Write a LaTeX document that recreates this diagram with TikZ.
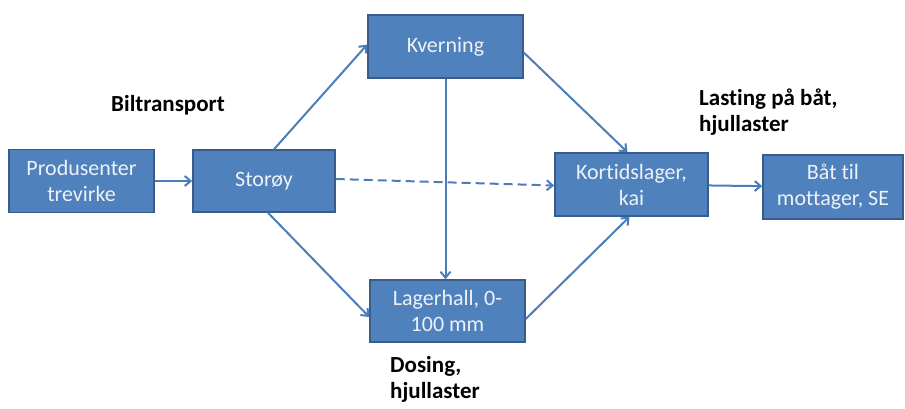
\documentclass[tikz,border=0pt]{standalone}
\usepackage{fontspec}
\setmainfont{Carlito}[Ligatures={NoCommon}]
\usepackage{xcolor}
\usetikzlibrary{arrows.meta,positioning,calc}

\definecolor{boxblue}{HTML}{4F81BD}
\definecolor{boxedge}{HTML}{385D8A}
\definecolor{flowblue}{HTML}{4A7EBB}
\definecolor{boxtext}{HTML}{EEF1F6}

\begin{document}
\begin{tikzpicture}[x=1pt,y=-1pt,
  stage/.style={draw=boxedge, line width=1.5pt, fill=boxblue, text=boxtext,
    align=center, font=\fontsize{22}{26}\selectfont, inner sep=0pt},
  flow/.style={-{Straight Barb[length=6pt,width=10pt]}, line width=2pt, flowblue},
  note/.style={font=\bfseries\fontsize{23}{26}\selectfont, align=left, inner sep=0pt}]
% Canvas
\useasboundingbox (0,0) rectangle (905,408);

% Stages
\node[stage, minimum width=145pt, minimum height=63pt] (prod) at (81.5,181) {Produsenter\\trevirke};
\node[stage, minimum width=142pt, minimum height=62pt] (storoy) at (264,181) {Storøy};
\node[stage, minimum width=155pt, minimum height=63pt] (kvern) at (445.5,46.5) {Kverning};
\node[stage, minimum width=155pt, minimum height=62pt] (lager) at (447.5,311) {Lagerhall, 0-\\100 mm};
\node[stage, minimum width=153pt, minimum height=63pt] (kort) at (631.5,184.5) {Kortidslager,\\kai};
\node[stage, minimum width=140pt, minimum height=64pt] (baat) at (833,187) {Båt til\\mottager, SE};

% Notes
\node[note] (bil) at (168,105) {Biltransport};
\node[note, anchor=north west] (last) at (699,89) {Lasting på båt,\\hjullaster};
\node[note, anchor=north west] (dos) at (390,356) {Dosing,\\hjullaster};

% Flows
\draw[flow] (prod) -- (storoy);
\draw[flow] ([xshift=10pt]storoy.north) -- ([yshift=2pt]kvern.west);
\draw[flow] ([xshift=4pt]storoy.south) -- ([yshift=-6pt]lager.west);
\draw[flow, dash pattern=on 9pt off 5pt] ([yshift=2pt]storoy.east) -- ([yshift=-1pt]kort.west);
\draw[flow] (kvern.south) -- (kvern.south |- lager.north);
\draw[flow] ([yshift=-6pt]kvern.east) -- ([xshift=-4pt]kort.north);
\draw[flow] ([yshift=-8pt]lager.east) -- ([xshift=-2pt]kort.south);
\draw[flow] (kort) -- (baat);

\end{tikzpicture}
\end{document}
